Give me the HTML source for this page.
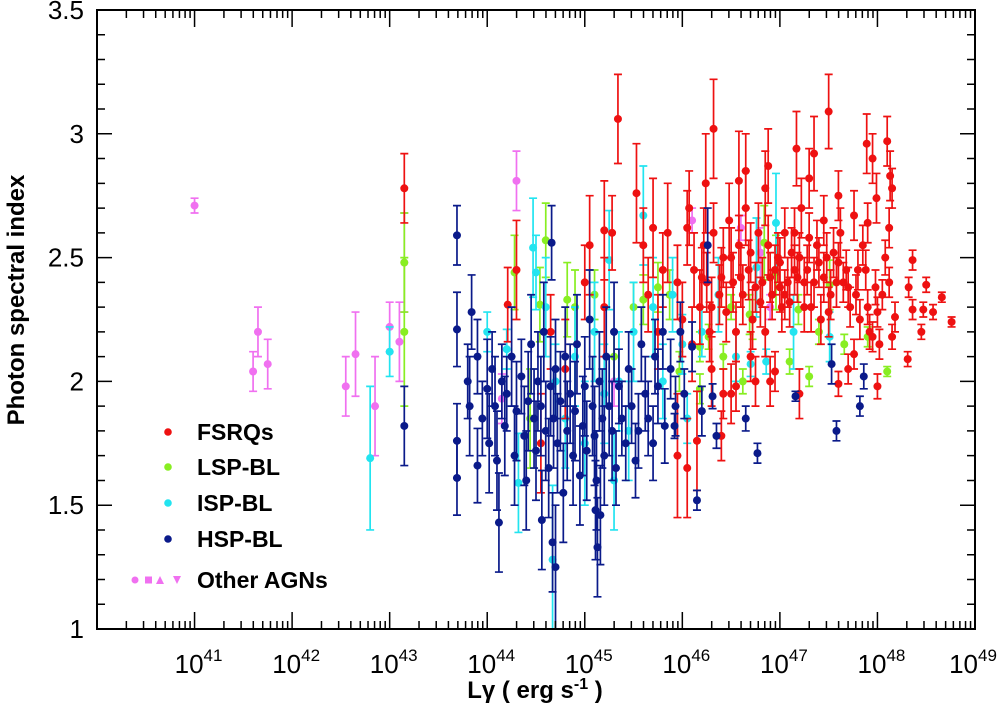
<!DOCTYPE html>
<html><head><meta charset="utf-8"><style>
body{margin:0;background:#fff;}
svg{display:block;font-family:"Liberation Sans",Arial,sans-serif;}
</style></head><body>
<svg id="c" width="1000" height="709" viewBox="0 0 1000 709"></svg>
<script>
// data: [log10 L, photon index, error]
const fsrq=[[43.15,2.78,0.14],[44.21,2.31,0.15],[44.3,2.45,0.2],[44.55,1.75,0.2],[44.65,2.2,0.15],[44.8,2.05,0.2],[45.0,2.4,0.15],[45.05,2.55,0.2],[45.2,2.3,0.2],[45.2,2.61,0.2],[45.28,2.6,0.15],[45.34,3.06,0.18],[45.53,2.76,0.2],[45.6,2.55,0.15],[45.65,2.35,0.15],[45.7,2.62,0.2],[45.75,2.2,0.15],[45.8,2.45,0.15],[45.85,2.6,0.2],[45.95,2.4,0.15],[46.0,2.25,0.15],[46.05,2.62,0.15],[46.07,2.7,0.15],[46.1,2.15,0.15],[46.12,2.45,0.15],[46.15,1.76,0.2],[46.18,2.3,0.15],[46.22,2.55,0.15],[46.24,2.8,0.2],[46.25,2.4,0.12],[46.28,2.2,0.12],[46.32,3.02,0.2],[46.32,2.6,0.12],[46.38,2.35,0.12],[46.42,2.5,0.12],[46.42,1.95,0.1],[46.45,2.28,0.12],[46.48,2.65,0.15],[46.52,2.4,0.12],[46.55,2.2,0.12],[46.55,1.98,0.1],[46.58,2.81,0.2],[46.58,2.55,0.12],[46.62,2.35,0.12],[46.65,2.7,0.15],[46.68,2.45,0.12],[46.72,2.25,0.12],[46.75,2.0,0.1],[46.78,2.6,0.12],[46.82,2.4,0.1],[46.85,2.2,0.1],[46.88,2.87,0.15],[46.88,2.55,0.12],[46.92,2.35,0.1],[46.95,2.04,0.08],[46.98,2.5,0.1],[47.02,2.3,0.1],[47.05,2.6,0.1],[47.08,2.4,0.1],[47.12,2.52,0.1],[47.17,2.94,0.15],[47.18,2.42,0.1],[47.2,1.95,0.1],[47.22,2.7,0.12],[47.28,2.45,0.1],[47.32,2.3,0.1],[47.35,2.92,0.15],[47.38,2.55,0.1],[47.42,2.25,0.1],[47.48,2.5,0.1],[47.5,3.09,0.15],[47.52,2.35,0.1],[47.58,2.4,0.1],[47.6,1.99,0.05],[47.62,2.6,0.1],[47.68,2.45,0.08],[47.72,2.3,0.08],[47.76,2.67,0.1],[47.76,2.11,0.06],[47.78,2.35,0.08],[47.82,2.25,0.08],[47.88,2.45,0.08],[47.89,2.96,0.12],[47.9,2.64,0.08],[47.92,2.2,0.07],[47.95,2.9,0.1],[47.95,2.18,0.06],[47.98,2.38,0.07],[47.99,2.74,0.1],[48.02,2.15,0.06],[48.08,2.5,0.07],[48.1,2.97,0.1],[48.12,2.62,0.08],[48.12,2.4,0.06],[48.13,2.83,0.1],[48.15,2.78,0.08],[48.18,2.26,0.06],[48.15,2.18,0.05],[48.31,2.09,0.03],[48.32,2.38,0.04],[48.36,2.49,0.04],[48.36,2.29,0.04],[48.45,2.2,0.03],[48.47,2.29,0.03],[48.5,2.39,0.03],[48.57,2.28,0.03],[48.66,2.34,0.02],[48.76,2.24,0.02],[46.3,2.05,0.15],[46.5,1.95,0.12],[46.7,2.1,0.1],[46.9,2.0,0.1],[45.95,1.7,0.25],[46.4,1.78,0.1],[46.05,1.65,0.2],[47.7,2.05,0.06],[48.0,1.98,0.05],[46.65,2.85,0.15],[47.3,2.82,0.12],[46.85,2.78,0.15],[47.6,2.75,0.1],[47.15,2.6,0.1],[47.45,2.65,0.1],[47.05,2.35,0.1],[46.95,2.45,0.1],[47.25,2.3,0.1],[47.55,2.52,0.1],[47.35,2.4,0.1],[47.65,2.4,0.08],[47.85,2.55,0.08],[48.05,2.35,0.06],[46.6,2.42,0.12],[46.7,2.52,0.12],[46.8,2.32,0.1],[46.9,2.42,0.1],[47.0,2.48,0.1],[47.1,2.32,0.1],[47.2,2.5,0.1],[47.3,2.58,0.1],[47.4,2.48,0.1],[47.5,2.28,0.1],[47.6,2.48,0.08],[47.7,2.38,0.08],[47.8,2.45,0.08],[47.9,2.3,0.07],[48.0,2.28,0.06],[46.4,2.42,0.12],[46.5,2.5,0.12],[46.3,2.3,0.12],[46.2,2.42,0.12],[47.0,2.38,0.1],[47.25,2.4,0.1],[47.45,2.42,0.1],[47.15,2.45,0.1],[46.75,2.38,0.1]];
const lsp=[[43.15,2.2,0.3],[43.15,2.48,0.2],[44.28,2.44,0.15],[44.44,1.85,0.2],[44.54,2.31,0.15],[44.6,2.57,0.15],[44.82,2.33,0.15],[44.9,2.3,0.15],[45.1,2.35,0.1],[45.3,2.1,0.1],[45.5,2.3,0.1],[45.6,2.33,0.1],[45.75,2.38,0.1],[45.87,2.35,0.1],[45.97,2.04,0.08],[46.18,2.14,0.06],[46.18,1.97,0.06],[46.27,2.18,0.05],[46.42,2.1,0.05],[46.5,2.3,0.05],[46.62,2.0,0.05],[46.69,2.27,0.08],[46.72,2.25,0.08],[46.84,2.56,0.15],[46.96,2.44,0.15],[47.1,2.08,0.05],[47.19,2.29,0.06],[47.3,2.02,0.04],[47.4,2.2,0.05],[47.51,2.39,0.1],[47.66,2.15,0.04],[47.9,2.18,0.04],[48.1,2.04,0.02]];
const isp=[[42.8,1.69,0.29],[43.0,2.12,0.1],[44.0,2.2,0.08],[44.2,2.13,0.08],[44.32,1.59,0.2],[44.47,2.54,0.2],[44.5,2.44,0.15],[44.67,1.28,0.3],[44.7,2.0,0.15],[44.8,1.85,0.2],[44.9,2.1,0.2],[45.0,1.75,0.25],[45.1,2.2,0.2],[45.2,1.95,0.2],[45.25,2.49,0.2],[45.35,2.0,0.2],[45.45,1.8,0.2],[45.5,2.2,0.2],[45.6,2.67,0.2],[45.7,2.3,0.2],[45.8,2.0,0.15],[45.9,2.35,0.15],[46.0,2.15,0.12],[46.05,1.85,0.1],[46.2,2.2,0.1],[46.37,2.35,0.15],[46.55,2.1,0.1],[46.7,2.07,0.05],[46.76,2.46,0.2],[46.86,2.08,0.05],[46.96,2.64,0.2],[47.14,2.2,0.15],[47.51,2.18,0.1],[45.3,1.6,0.2],[44.6,2.3,0.2]];
const hsp=[[43.15,1.82,0.16],[43.69,2.59,0.12],[43.69,2.21,0.15],[43.69,1.76,0.15],[43.69,1.61,0.15],[43.84,2.28,0.15],[43.8,2.0,0.15],[43.82,1.9,0.2],[43.9,1.66,0.15],[43.9,2.1,0.15],[43.95,1.85,0.15],[44.0,1.97,0.2],[44.02,1.75,0.2],[44.05,2.05,0.15],[44.08,1.9,0.2],[44.1,1.68,0.2],[44.12,1.43,0.2],[44.15,2.0,0.15],[44.18,1.82,0.2],[44.2,1.95,0.15],[44.25,2.1,0.2],[44.28,1.7,0.2],[44.3,1.88,0.2],[44.35,2.02,0.15],[44.38,1.78,0.2],[44.4,1.6,0.2],[44.42,1.92,0.2],[44.45,2.15,0.2],[44.48,1.85,0.2],[44.5,1.72,0.2],[44.52,2.0,0.2],[44.55,1.9,0.2],[44.56,1.44,0.2],[44.58,2.2,0.2],[44.6,1.8,0.2],[44.63,1.65,0.2],[44.65,1.98,0.2],[44.66,2.56,0.15],[44.67,1.35,0.2],[44.68,1.85,0.2],[44.7,1.25,0.25],[44.7,2.05,0.2],[44.72,1.75,0.2],[44.75,1.92,0.2],[44.78,1.55,0.2],[44.8,2.1,0.2],[44.82,1.8,0.2],[44.85,1.95,0.2],[44.88,1.7,0.2],[44.9,1.88,0.2],[44.92,2.15,0.2],[44.95,1.62,0.2],[44.98,1.82,0.2],[45.0,1.98,0.2],[45.02,1.72,0.2],[45.05,2.25,0.2],[45.08,1.9,0.2],[45.1,1.78,0.2],[45.11,1.48,0.2],[45.12,1.6,0.2],[45.13,1.33,0.2],[45.15,2.0,0.2],[45.16,1.46,0.2],[45.18,1.85,0.2],[45.2,1.7,0.2],[45.22,2.1,0.2],[45.25,1.9,0.2],[45.28,1.8,0.2],[45.3,2.2,0.2],[45.32,1.65,0.15],[45.35,1.98,0.15],[45.38,1.85,0.15],[45.42,1.75,0.15],[45.45,2.05,0.15],[45.48,1.9,0.15],[45.52,1.68,0.15],[45.55,1.8,0.15],[45.58,2.15,0.15],[45.62,1.95,0.15],[45.65,1.85,0.15],[45.7,1.75,0.15],[45.72,2.1,0.15],[45.75,1.98,0.15],[45.8,2.2,0.15],[45.82,1.82,0.15],[45.88,2.05,0.12],[45.92,1.82,0.05],[45.93,1.9,0.12],[45.98,2.2,0.12],[46.02,1.95,0.1],[46.1,2.14,0.1],[46.15,1.52,0.04],[46.2,1.88,0.1],[46.26,2.55,0.15],[46.31,1.94,0.05],[46.35,1.78,0.05],[46.65,1.85,0.05],[46.77,1.71,0.04],[47.16,1.94,0.02],[47.53,2.07,0.08],[47.58,1.8,0.04],[47.82,1.9,0.04],[47.86,2.02,0.05]];
const other=[[41.0,2.71,0.03],[41.6,2.04,0.08],[41.65,2.2,0.1],[41.75,2.07,0.1],[42.55,1.98,0.12],[42.65,2.11,0.17],[42.85,1.9,0.2],[43.0,2.22,0.1],[43.1,2.16,0.16],[43.15,2.48,0.2],[44.3,2.81,0.12],[44.15,1.93,0.1],[45.3,2.0,0.1],[46.1,2.65,0.05],[46.6,2.62,0.05],[46.8,2.52,0.1],[46.9,2.3,0.05]];
const xTicks=[41,42,43,44,45,46,47,48,49];
const yTicks=["1","1.5","2","2.5","3","3.5"];

const NS="http://www.w3.org/2000/svg",svg=document.getElementById('c');
const L=97,R=975,T=10,B=629;
const X=v=>L+(v-40)*(R-L)/9, Y=v=>B-(v-1)*(B-T)/2.5;
function el(t,a,p){const e=document.createElementNS(NS,t);for(const k in a)e.setAttribute(k,a[k]);(p||svg).appendChild(e);return e;}
const series=[[other,'#f070f0','other-agns'],[lsp,'#88ee22','lsp-bl'],[isp,'#22e4f0','isp-bl'],[fsrq,'#ee1111','fsrqs'],[hsp,'#0a1a8a','hsp-bl']];
const clip=el('clipPath',{id:'cp'});el('rect',{x:L,y:T,width:R-L,height:B-T},clip);
series.forEach(([d,c,n])=>{
 const g=el('g',{'clip-path':'url(#cp)'});
 
 
 d.forEach(p=>{
  const x=X(p[0]),y=Y(p[1]),y1=Y(p[1]+p[2]),y2=Y(p[1]-p[2]);
  el('path',{d:`M${x} ${y1}V${y2}M${x-4} ${y1}H${x+4}M${x-4} ${y2}H${x+4}`,stroke:c,'stroke-width':1.7,fill:'none'},g);
  const m=el('circle',{cx:x,cy:y,r:4,fill:c},g);
  
  
 });
});
const fr=el('rect',{x:L,y:T,width:R-L,height:B-T,fill:'none',stroke:'#000','stroke-width':2});

let tk='';
for(let d=40;d<49;d++)for(let k=1;k<=10;k++){const x=X(d+Math.log10(k));const len=k==10?17:8;tk+=`M${x} ${B}v${-len}M${x} ${T}v${len}`;}
for(let i=0;i<=25;i++){const v=1+i*0.1;const y=Y(v);const len=(i%5==0)?15:8;tk+=`M${L} ${y}h${len}M${R} ${y}h${-len}`;}
el('path',{d:tk,stroke:'#000','stroke-width':1.5,fill:'none'});
xTicks.forEach(t=>{const tx=el('text',{x:Math.min(X(t)+4,973),y:673,'font-size':26,'text-anchor':'middle'});tx.innerHTML=`10<tspan dy="-12" font-size="17">${t}</tspan>`;});
yTicks.forEach(t=>{const tx=el('text',{x:84,y:Y(parseFloat(t))+9,'font-size':26,'text-anchor':'end'});tx.textContent=t;});
const xt=el('text',{x:535,y:698,'font-size':24,'font-weight':'bold','text-anchor':'middle'});xt.innerHTML='Lγ ( erg s<tspan dy="-9" font-size="16">-1</tspan><tspan dy="9"> )</tspan>';

const yt=el('text',{x:0,y:0,'font-size':24,'font-weight':'bold','text-anchor':'middle',transform:'translate(24,300) rotate(-90)'});yt.textContent='Photon spectral index';

const leg=[['FSRQs','#ee1111',432],['LSP-BL','#88ee22',467],['ISP-BL','#22e4f0',503],['HSP-BL','#0a1a8a',539]];
leg.forEach(([t,c,y])=>{const g=el('g',{});
 el('circle',{cx:168,cy:y,r:3.8,fill:c},g);const tx=el('text',{x:197,y:y+8,'font-size':23,'font-weight':'bold'},g);tx.textContent=t;});
const g=el('g',{});
const pc='#f070f0';el('circle',{cx:135,cy:580,r:3.5,fill:pc},g);el('rect',{x:145,y:576.5,width:7,height:7,fill:pc},g);
el('path',{d:'M160 576l4 8h-8z',fill:pc},g);el('path',{d:'M173 576h8l-4 8z',fill:pc},g);
const ot=el('text',{x:197,y:588,'font-size':23,'font-weight':'bold'},g);ot.textContent='Other AGNs';
</script>
</body></html>
